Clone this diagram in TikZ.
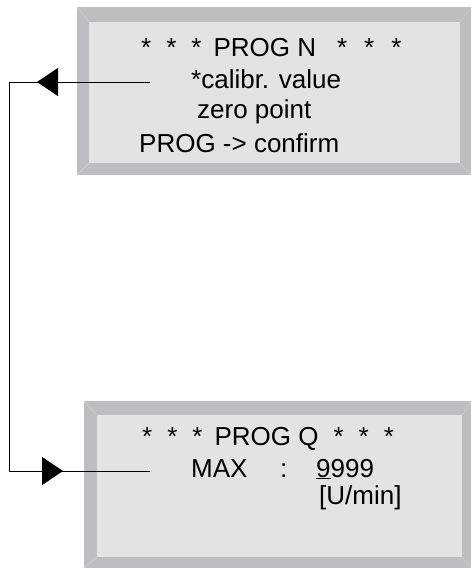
\documentclass[tikz,border=0pt]{standalone}
\usepackage{fontspec}
\setmainfont{Liberation Sans}
\usetikzlibrary{arrows.meta,decorations.markings}
\definecolor{frameC}{HTML}{BEBEC0}
\definecolor{faceC}{HTML}{E3E3E3}
\definecolor{edgeC}{HTML}{D4D4D6}
\tikzset{
  lcd/.style={anchor=base west, inner sep=0pt, font=\fontsize{26}{30}\selectfont},
  wire/.style={line width=1pt, line join=miter},
  bigtip/.tip={Triangle[length=21pt, width=28pt]},
}
\newcommand{\bevelbox}[8]{% outer x0,y0,x1,y1 then inner x0,y0,x1,y1
  \fill[frameC] (#1,#2) rectangle (#3,#4);
  \fill[faceC] (#5,#6) rectangle (#7,#8);
  \draw[edgeC, thin] (#1,#2) -- (#5,#6) (#3,#2) -- (#7,#6) (#1,#4) -- (#5,#8) (#3,#4) -- (#7,#8);}
\newcommand{\stars}{*\hspace{15pt}*\hspace{15pt}*}

\begin{document}
\begin{tikzpicture}[x=1pt, y=-1pt]
  \useasboundingbox (0,0) rectangle (471,568);
  % display boxes
  \bevelbox{77}{7}{471}{175}{89}{22}{460}{163}
  \bevelbox{84}{401}{471}{568}{97}{415}{462}{557}
  % PROG N
  \node[lcd] (nHead) at (141,56) {\stars\hspace{12pt}PROG N\hspace{21pt}*\hspace{17pt}*\hspace{17pt}*};
  \node[lcd] (nCal) at (191,88) {*calibr. value};
  \node[lcd] (nZero) at (197,118) {zero point};
  \node[lcd] (nConf) at (139,152) {PROG -> confirm};
  % PROG Q
  \node[lcd] (qHead) at (142,445) {\stars\hspace{12pt}PROG Q\hspace{15pt}*\hspace{15pt}*\hspace{15pt}*};
  \node[lcd] (qMax) at (191,477) {MAX};
  \node[lcd] (qColon) at (280,477) {:};
  \node[lcd] (qVal) at (316,477) {\underline{9}999};
  \node[lcd] (qUnit) at (319,504) {[U/min]};
  % loop back
  \coordinate (nIn) at (150,82);
  \coordinate (cTop) at (9,82);
  \coordinate (cBot) at (9,471);
  \coordinate (qIn) at (150,471);
  \draw[wire, postaction={decorate}, decoration={markings,
      mark=at position 113pt with {\arrow{bigtip}},
      mark=at position 584pt with {\arrow{bigtip}}}]
    (nIn) -- (cTop) -- (cBot) -- (qIn);
\end{tikzpicture}
\end{document}
